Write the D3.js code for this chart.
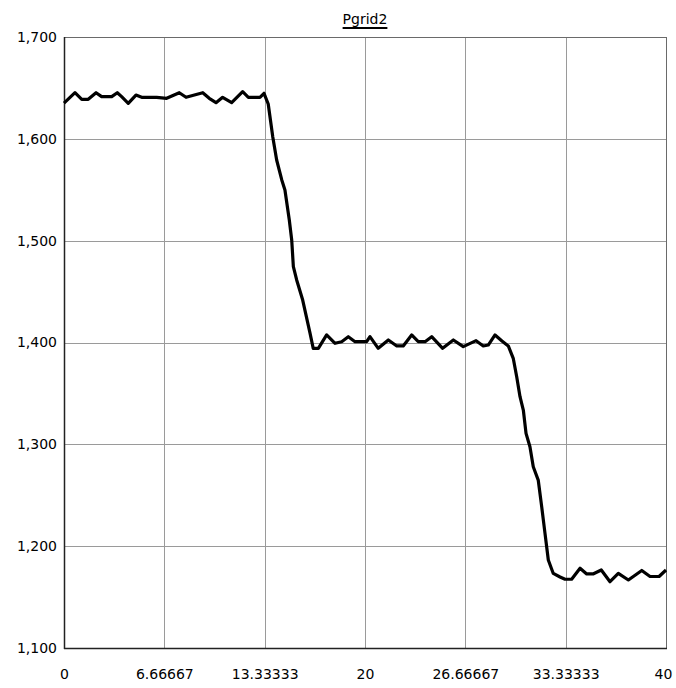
<!DOCTYPE html>
<html>
<head>
<meta charset="utf-8">
<script src="https://cdn.jsdelivr.net/npm/d3@7"></script>
<style>
  html, body { margin: 0; padding: 0; background: #fff; }
  svg { display: block; }
  text { font-family: "DejaVu Sans", sans-serif; font-size: 14px; fill: #000; }
</style>
</head>
<body>
<svg id="chart" width="676" height="688"></svg>
<script>
// Simulation time (s) and grid power samples
const timeValues = [
  0, 0.73, 1.18, 1.61, 2.13, 2.50, 3.17, 3.54, 3.83, 4.27, 4.78, 5.16, 6.16, 6.82, 7.66, 8.11,
  9.22, 9.65, 10.10, 10.54, 11.14, 11.87, 12.25, 13.02, 13.29,
  13.57, 13.87, 14.13, 14.47, 14.68, 14.97, 15.13, 15.24, 15.46, 15.86, 16.35, 16.56, 16.90,
  17.45, 18.01, 18.45, 18.89, 19.34, 20.11, 20.33, 20.88, 21.55, 22.11, 22.54, 23.10, 23.54,
  23.99, 24.43, 25.16, 25.87, 26.53, 27.38, 27.86, 28.19, 28.64, 29.10, 29.52,
  29.85, 30.08, 30.30, 30.52, 30.70, 30.96, 31.18, 31.51, 31.74, 31.96, 32.18, 32.51,
  32.96, 33.29, 33.73, 34.29, 34.73, 35.15, 35.70, 36.28, 36.83, 37.50, 38.39, 38.94, 39.54, 40
];
const pgridValues = [
  1635, 1645.3, 1638.8, 1638.8, 1645.3, 1641.4, 1641.4, 1645.3, 1641.4, 1634.9, 1643.0, 1640.8, 1640.8, 1639.8, 1645.3, 1640.8,
  1645.3, 1639.8, 1635.5, 1640.8, 1635.5, 1646.3, 1640.8, 1640.8, 1644.7,
  1634.2, 1602.1, 1579.2, 1559.6, 1549.8, 1520.3, 1500.7, 1474.4, 1461.4, 1441.7, 1409.0, 1394.3, 1394.3,
  1407.4, 1399.2, 1400.8, 1405.7, 1400.8, 1400.8, 1405.7, 1394.3, 1402.5, 1396.6, 1396.6, 1407.4, 1400.8,
  1400.8, 1405.7, 1394.3, 1402.5, 1395.9, 1401.8, 1396.6, 1397.5, 1407.4, 1401.5, 1396.6,
  1384.5, 1366.4, 1346.8, 1333.7, 1310.8, 1297.7, 1278.0, 1264.9, 1238.8, 1212.6, 1186.4, 1173.2,
  1169.7, 1167.5, 1167.5, 1178.3, 1172.7, 1172.7, 1176.6, 1165.1, 1173.3, 1166.8, 1176.1, 1170.2, 1170.2, 1176.6
];
const xTickValues = [0, 20 / 3, 40 / 3, 20, 80 / 3, 100 / 3, 40];
const xTickLabels = ["0", "6.66667", "13.33333", "20", "26.66667", "33.33333", "40"];
const yTickValues = [1100, 1200, 1300, 1400, 1500, 1600, 1700];
const titleText = "Pgrid2";

const svg = d3.select("#chart");
const margin = { left: 64, right: 10, top: 37, bottom: 40 };
const width = 676 - margin.left - margin.right;
const height = 688 - margin.top - margin.bottom;

const x = d3.scaleLinear().domain([0, 40]).range([0, width]);
const y = d3.scaleLinear().domain([1100, 1700]).range([height, 0]);

const g = svg.append("g").attr("transform", `translate(${margin.left},${margin.top})`);

// grid lines
g.append("g")
  .selectAll("line")
  .data(xTickValues.slice(1, -1))
  .join("line")
  .attr("x1", d => Math.round(x(d)) + 0.5).attr("x2", d => Math.round(x(d)) + 0.5)
  .attr("y1", 0).attr("y2", height)
  .attr("stroke", "#9a9a9a").attr("stroke-width", 1);

g.append("g")
  .selectAll("line")
  .data(yTickValues.slice(1, -1))
  .join("line")
  .attr("y1", d => Math.round(y(d)) + 0.5).attr("y2", d => Math.round(y(d)) + 0.5)
  .attr("x1", 0).attr("x2", width)
  .attr("stroke", "#9a9a9a").attr("stroke-width", 1);

// plot frame
g.append("rect")
  .attr("x", 0.5).attr("y", 0.5)
  .attr("width", width).attr("height", height)
  .attr("fill", "none").attr("stroke", "#6a6a6a").attr("stroke-width", 1);
g.append("line")
  .attr("x1", 0.5).attr("x2", 0.5).attr("y1", 0).attr("y2", height + 1)
  .attr("stroke", "#222").attr("stroke-width", 1.5);
g.append("line")
  .attr("x1", 0).attr("x2", width + 1).attr("y1", height + 0.5).attr("y2", height + 0.5)
  .attr("stroke", "#222").attr("stroke-width", 1.5);

const labelStyle = s => s.selectAll("text")
  .style("font-family", "'DejaVu Sans', sans-serif")
  .style("font-size", "14px")
  .attr("fill", "#000");

// y axis labels
const yAxis = d3.axisLeft(y)
  .tickValues(yTickValues)
  .tickSize(0)
  .tickPadding(7)
  .tickFormat(d3.format(","));
g.append("g").call(yAxis)
  .call(s => s.select(".domain").remove())
  .call(labelStyle);

// x axis labels
const xAxis = d3.axisBottom(x)
  .tickValues(xTickValues)
  .tickSize(0)
  .tickPadding(21)
  .tickFormat((d, i) => xTickLabels[i]);
g.append("g").attr("transform", `translate(0,${height})`).call(xAxis)
  .call(s => s.select(".domain").remove())
  .call(labelStyle)
  .call(s => s.selectAll(".tick").filter((d, i) => i === xTickValues.length - 1).select("text").attr("dx", -3));

// series line
const points = timeValues.map((t, i) => [t, pgridValues[i]]);
g.append("path")
  .datum(points)
  .attr("fill", "none")
  .attr("stroke", "#000")
  .attr("stroke-width", 3.2)
  .attr("stroke-linejoin", "round")
  .attr("d", d3.line().x(d => x(d[0])).y(d => y(d[1])));

// title
const title = svg.append("text")
  .attr("x", margin.left + width / 2)
  .attr("y", 24)
  .attr("text-anchor", "middle")
  .style("font-size", "14px")
  .text(titleText);
const bb = title.node().getBBox();
svg.append("line")
  .attr("x1", bb.x).attr("x2", bb.x + bb.width)
  .attr("y1", 28).attr("y2", 28)
  .attr("stroke", "#000").attr("stroke-width", 2);
</script>
</body>
</html>
